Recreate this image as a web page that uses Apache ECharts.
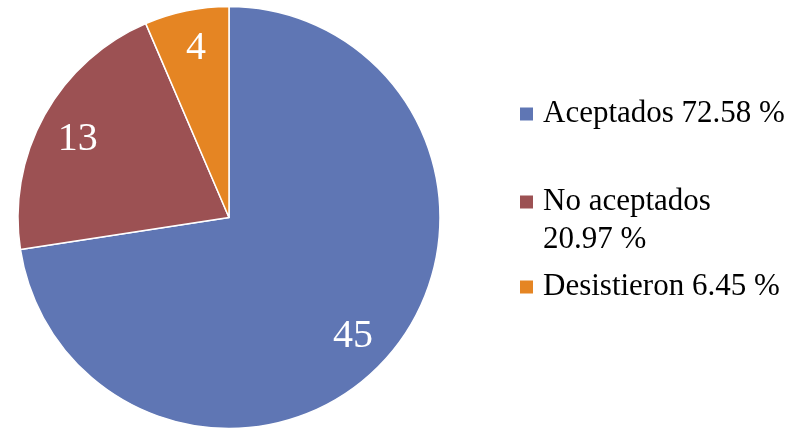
<!DOCTYPE html>
<html><head><meta charset="utf-8">
<script src="https://cdn.jsdelivr.net/npm/echarts@6/dist/echarts.min.js"></script>
<style>html,body{margin:0;padding:0;background:#fff}#c{width:794px;height:430px}</style>
</head><body><div id="c"></div>
<script>
const categories = ['Aceptados', 'No aceptados', 'Desistieron'];
const values = [45, 13, 4];
const colors = ['#5f76b4', '#9c5153', '#e58523'];

const total = values.reduce((a, b) => a + b, 0);
const pct = v => (v / total * 100).toFixed(2) + ' %';
const FONT = '"Liberation Serif", "Times New Roman", serif';
// label nudges (styling only)
const nudge = [[-8, 6], [1, 6], [2, 1]];

function legendFor(i, top, multi) {
  return {
    data: [categories[i]],
    left: 520, top: top, padding: 0,
    icon: 'rect', itemWidth: 13, itemHeight: 13,
    itemStyle: { borderWidth: 0 },
    selectedMode: false,
    formatter: function (name) {
      const v = values[categories.indexOf(name)];
      return multi ? '{e| }\n{t|' + name + '}\n{t|' + pct(v) + '}' : '{t|' + name + ' ' + pct(v) + '}';
    },
    textStyle: {
      fontFamily: FONT, fontSize: 31, color: '#000', lineHeight: 38,
      rich: {
        t: { fontFamily: FONT, fontSize: 31, color: '#000', lineHeight: 38, padding: [0, 0, 0, 5] },
        e: { fontSize: 10, lineHeight: 38 }
      }
    }
  };
}

const chart = echarts.init(document.getElementById('c'));
chart.setOption({
  animation: false,
  legend: [legendFor(0, 95, false), legendFor(1, 145, true), legendFor(2, 268, false)],
  series: [
    {
      type: 'pie', center: [229, 217.5], radius: 211, startAngle: 90, clockwise: true,
      data: categories.map((n, i) => ({ name: n, value: values[i], itemStyle: { color: colors[i] } })),
      label: { show: false }, labelLine: { show: false },
      itemStyle: { borderColor: '#fff', borderWidth: 1.5 }, silent: true
    },
    {
      type: 'pie', center: [229, 217.5], radius: [130, 212], startAngle: 90, clockwise: true,
      data: categories.map((n, i) => ({ name: n, value: values[i], label: { offset: nudge[i] } })),
      itemStyle: { color: 'rgba(0,0,0,0)', borderWidth: 0 }, silent: true,
      label: { show: true, position: 'inside', formatter: '{c}', color: '#fff', fontFamily: FONT, fontSize: 40 },
      labelLine: { show: false }
    }
  ]
});
</script></body></html>
